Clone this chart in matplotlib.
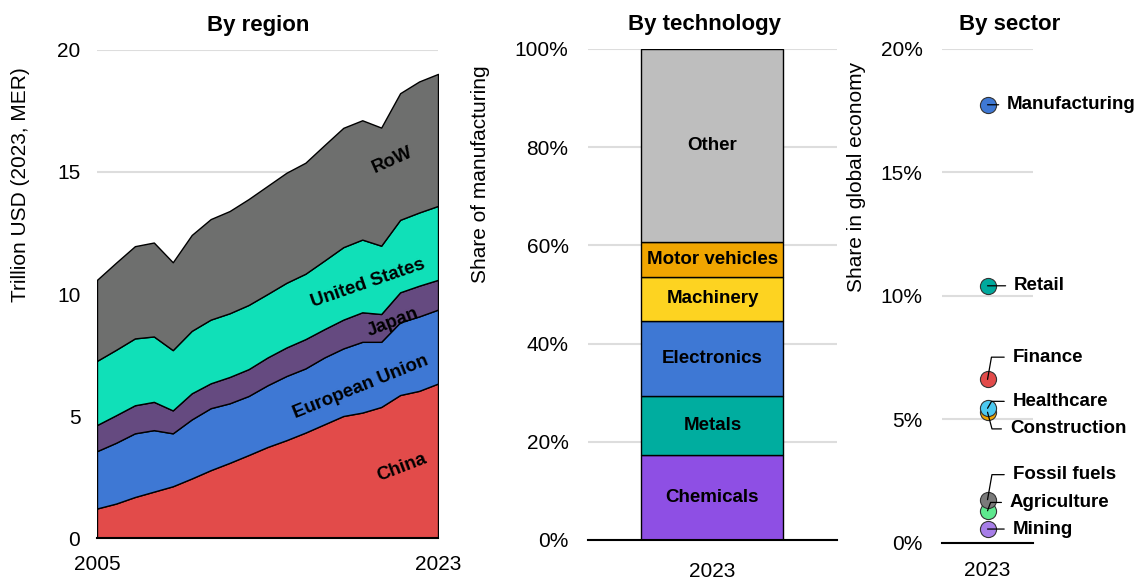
import matplotlib
matplotlib.use("Agg")
import matplotlib.pyplot as plt
import numpy as np

plt.rcParams['font.family'] = ['Liberation Sans', 'DejaVu Sans']

# By region, trillion USD (2023, MER)
years = list(range(2005, 2024))
regions = ["China", "European Union", "Japan", "United States", "RoW"]
china = [1.21, 1.41, 1.68, 1.90, 2.12, 2.44, 2.78, 3.08, 3.40, 3.73, 4.01, 4.32, 4.66, 5.00, 5.14, 5.37, 5.86, 6.03, 6.33]
eu = [2.35, 2.49, 2.61, 2.52, 2.17, 2.42, 2.54, 2.44, 2.42, 2.53, 2.63, 2.63, 2.74, 2.77, 2.90, 2.67, 2.98, 3.05, 3.03]
japan = [1.07, 1.13, 1.15, 1.16, 0.94, 1.07, 1.02, 1.08, 1.10, 1.14, 1.17, 1.20, 1.16, 1.18, 1.21, 1.14, 1.23, 1.26, 1.22]
usa = [2.63, 2.68, 2.74, 2.68, 2.47, 2.56, 2.61, 2.61, 2.63, 2.60, 2.65, 2.68, 2.81, 2.97, 2.98, 2.80, 2.97, 3.00, 3.03]
row = [3.32, 3.57, 3.78, 3.85, 3.60, 3.93, 4.12, 4.19, 4.34, 4.43, 4.51, 4.55, 4.73, 4.89, 4.89, 4.84, 5.19, 5.37, 5.41]
region_colors = ["#E24B4A", "#3E78D4", "#654A80", "#10E0B8", "#6E6F6E"]
# label anchor (year, value) and angle for in-area text
region_label_pos = [(2021.1, 2.9), (2018.9, 6.2), (2020.6, 8.85), (2019.3, 10.45), (2020.6, 15.5)]
region_label_rot = [21, 22, 21, 19, 24]

# By technology, share of manufacturing (%)
tech = ["Chemicals", "Metals", "Electronics", "Machinery", "Motor vehicles", "Other"]
tech_share = [17.4, 11.9, 15.3, 9.0, 7.1, 39.3]
tech_colors = ["#8E4FE4", "#00AD9F", "#3E78D4", "#FDD321", "#F0A500", "#BEBEBE"]

# By sector, share in global economy (%)
sectors = ["Mining", "Agriculture", "Fossil fuels", "Construction", "Healthcare", "Finance", "Retail", "Manufacturing"]
sector_share = [0.56, 1.30, 1.75, 5.29, 5.45, 6.62, 10.41, 17.74]
sector_colors = ["#A77EE8", "#5EE88E", "#7A7A7A", "#F0A500", "#4CC9F0", "#E24B4A", "#00A99D", "#3E78D4"]

fig = plt.figure(figsize=(11.41, 5.8), dpi=100)
GRID = "#DDDDDD"


def style_axis(ax):
    for s in ["top", "right", "left"]:
        ax.spines[s].set_visible(False)
    ax.spines["bottom"].set_linewidth(1.5)
    ax.spines["bottom"].set_zorder(5)
    ax.tick_params(length=0, labelsize=15)
    ax.yaxis.grid(True, color=GRID, lw=1.5)
    ax.set_axisbelow(True)


# Panel 1: by region
ax1 = fig.add_axes([0.0850, 0.0724, 0.2989, 0.8414])
style_axis(ax1)
ax1.stackplot(years, china, eu, japan, usa, row, colors=region_colors,
              edgecolor="black", linewidth=1)
ax1.set_xlim(2005, 2023)
ax1.set_ylim(0, 20)
ax1.set_xticks([2005, 2023])
ax1.set_yticks([0, 5, 10, 15, 20])
ax1.tick_params(axis="x", pad=12)
ax1.tick_params(axis="y", pad=12)
ax1.set_ylabel("Trillion USD (2023, MER)", fontsize=15)
ax1.yaxis.set_label_coords(-0.196, 0.725)
ax1.set_title("By region", fontsize=16, fontweight="bold", x=0.472, pad=14)
for name, (lx, ly), rot in zip(regions, region_label_pos, region_label_rot):
    ax1.text(lx, ly, name, fontsize=13.5, fontweight="bold", rotation=rot,
             ha="center", va="center", rotation_mode="anchor")

# Panel 2: by technology
ax2 = fig.add_axes([0.5153, 0.0690, 0.2182, 0.8466])
style_axis(ax2)
bottom = 0
for name, val, col in zip(tech, tech_share, tech_colors):
    ax2.bar(0, val, bottom=bottom, width=0.57, color=col, edgecolor="black", linewidth=1)
    ax2.text(0, bottom + val / 2, name, fontsize=13.5, fontweight="bold", ha="center", va="center")
    bottom += val
ax2.set_xlim(-0.5, 0.5)
ax2.set_ylim(0, 100)
ax2.set_xticks([0])
ax2.set_xticklabels(["2023"])
ax2.set_yticks(range(0, 101, 20))
ax2.set_yticklabels([f"{v}%" for v in range(0, 101, 20)])
ax2.tick_params(axis="x", pad=16)
ax2.tick_params(axis="y", pad=14)
ax2.set_ylabel("Share of manufacturing", fontsize=15)
ax2.yaxis.set_label_coords(-0.394, 0.745)
ax2.set_title("By technology", fontsize=16, fontweight="bold", x=0.47, pad=14)

# Panel 3: by sector
ax3 = fig.add_axes([0.8256, 0.0640, 0.0798, 0.8516])
style_axis(ax3)
ax3.set_xlim(-1, 1)
ax3.set_ylim(0, 20)
for name, val, col in zip(sectors, sector_share, sector_colors):
    ax3.scatter([0], [val], s=135, color=col, edgecolor="#333333", linewidth=0.8, zorder=3)
ax3.set_xticks([0])
ax3.set_xticklabels(["2023"])
ax3.set_yticks([0, 5, 10, 15, 20])
ax3.set_yticklabels([f"{v}%" for v in [0, 5, 10, 15, 20]])
ax3.tick_params(axis="x", pad=13)
ax3.tick_params(axis="y", pad=14)
ax3.set_ylabel("Share in global economy", fontsize=15)
ax3.yaxis.set_label_coords(-0.835, 0.74)
ax3.set_title("By sector", fontsize=16, fontweight="bold", x=0.747, pad=14)

# label offsets in points (dx, dy), leader angle at the point
label_layout = {
    "Manufacturing": (14, 0, None),
    "Retail": (19, 0, None),
    "Finance": (18, 16, 80),
    "Healthcare": (18, 5, 60),
    "Construction": (16, -12, 105),
    "Fossil fuels": (18, 18, 80),
    "Agriculture": (16, 6, 70),
    "Mining": (18, 0, None),
}
for name, val in zip(sectors, sector_share):
    dx, dy, ang = label_layout[name]
    if ang is None:
        conn = "arc3"
    else:
        conn = f"angle,angleA=0,angleB={ang},rad=0"
    ax3.annotate(name, xy=(0, val), xytext=(dx, dy), textcoords="offset points",
                 fontsize=13.5, fontweight="bold", ha="left", va="center",
                 annotation_clip=False, zorder=4,
                 arrowprops=dict(arrowstyle="-", color="black", lw=0.9,
                                 connectionstyle=conn, relpos=(0, 0.5),
                                 shrinkA=4, shrinkB=0))

fig.savefig("out.png", dpi=100)
